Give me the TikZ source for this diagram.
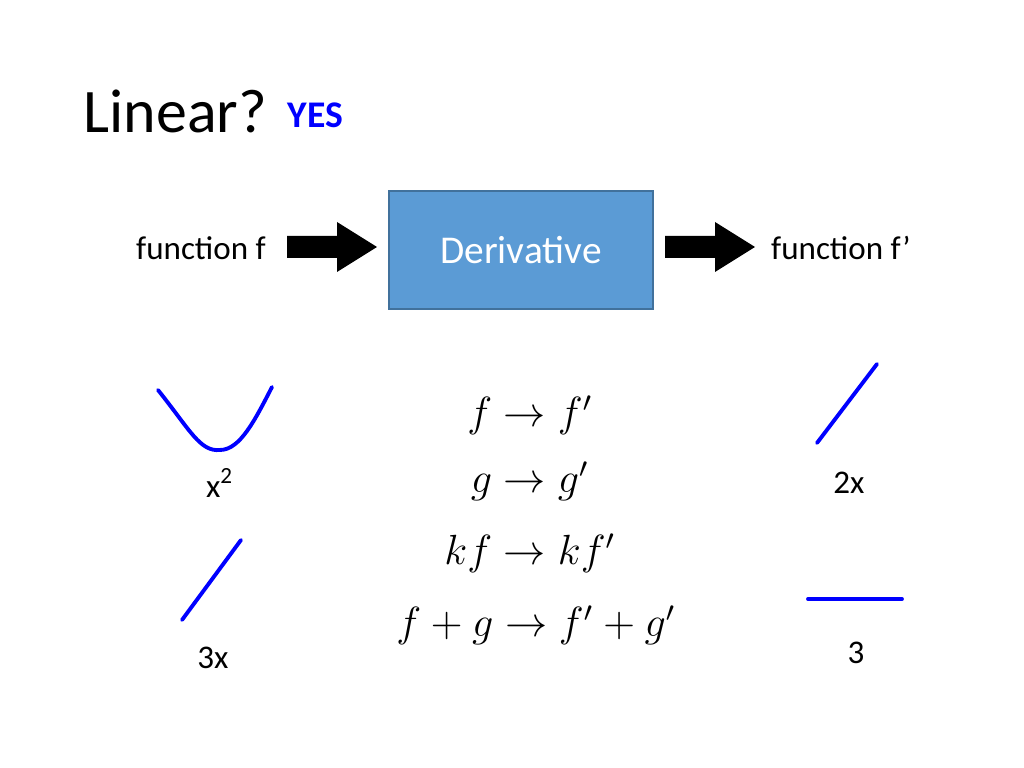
\documentclass[tikz,border=0pt]{standalone}
\usepackage{fontspec}
\setmainfont{Carlito}
\usetikzlibrary{positioning}
\definecolor{boxblue}{HTML}{5B9BD5}
\definecolor{boxedge}{HTML}{41719C}
\tikzset{
  curve/.style={draw=blue, line width=1.1pt, line cap=round},
  lab/.style={font=\fontsize{9.4}{10}\selectfont},
  mth/.style={font=\fontsize{11.6}{13}\selectfont},
  blockarrow/.style={fill=black}
}
\begin{document}
\begin{tikzpicture}[x=0.01cm, y=-0.01cm]
\useasboundingbox (0,0) rectangle (1024,768);
% title
\node[anchor=base west, font=\fontsize{17.6}{19}\selectfont, inner sep=0] (title) at (83,133) {Linear?};
\node[anchor=base west, font=\fontsize{10.7}{12}\selectfont\bfseries, text=blue, inner sep=0] (yes) at (287,128) {YES};
% box and arrows
\node[draw=boxedge, fill=boxblue, minimum width=2.64cm, minimum height=1.18cm, text=white,
  font=\fontsize{11.2}{12}\selectfont] (deriv) at (521,250) {Derivative};
\node[lab] (fin) at (201,248) {function f};
\node[lab] (fout) at (841,248) {function f’};
\fill[blockarrow] (287,236) -- (337,236) -- (337,222) -- (377,247) -- (337,272) -- (337,258) -- (287,258) -- cycle;
\fill[blockarrow] (665,236) -- (715,236) -- (715,222) -- (755,247) -- (715,272) -- (715,258) -- (665,258) -- cycle;
% graphs
\draw[curve] (158,390) .. controls (190,430) and (200,452) .. (220,450) .. controls (240,450) and (255,420) .. (272,387);
\draw[curve] (817,443) -- (877,364);
\draw[curve] (182,620) -- (241,540);
\draw[curve] (808,599) -- (902,599);
\node[lab] (sq) at (220,483) {x\textsuperscript{2}};
\node[lab] (dx) at (849,483) {2x};
\node[lab] (tx) at (213,658) {3x};
\node[lab] (th) at (856,653) {3};
% rules
\node[mth] (r1) at (530,415) {$f\rightarrow f'$};
\node[mth] (r2) at (530,481) {$g\rightarrow g'$};
\node[mth] (r3) at (530,553) {$kf\rightarrow kf'$};
\node[mth] (r4) at (536,625) {$f+g\rightarrow f'+g'$};
\end{tikzpicture}
\end{document}
